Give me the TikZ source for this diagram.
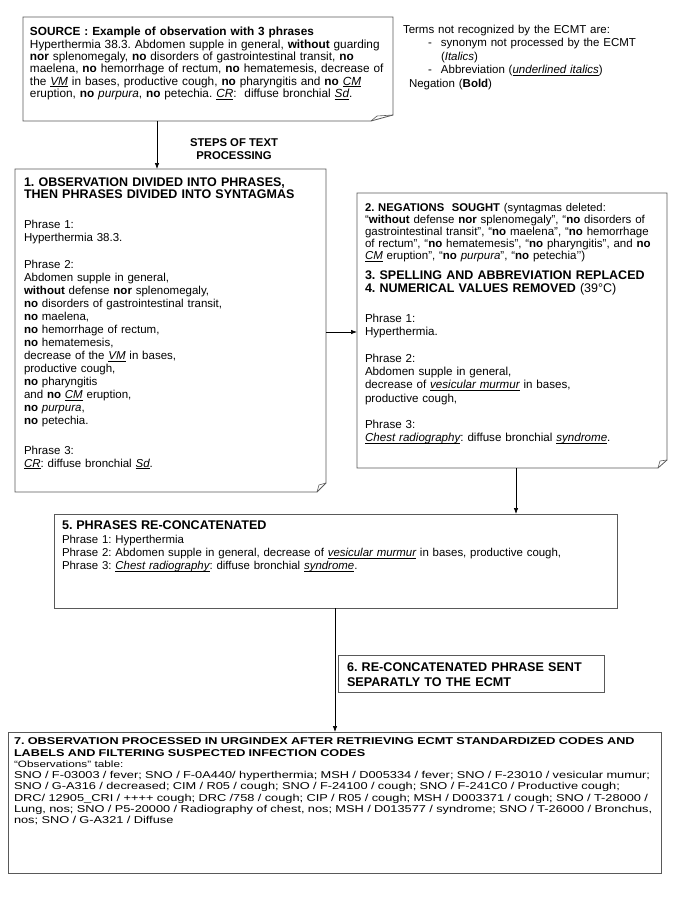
\documentclass[tikz,border=0pt]{standalone}
\usepackage{fontspec}
\setmainfont{Liberation Sans}
\newfontfamily\widefont[FakeStretch=1.28]{Liberation Sans}
\usetikzlibrary{arrows.meta}
\lineskiplimit=-50pt
\frenchspacing
\newsavebox\ulibox
\newcommand\uli[1]{\leavevmode\sbox\ulibox{\itshape #1}\rlap{\rule[-1.5pt]{\wd\ulibox}{0.55pt}}\usebox\ulibox}
\newcommand\fsz[2]{\fontsize{#1}{#2}\selectfont}
\tikzset{
  boxline/.style={draw=black!65, line width=0.8pt},
  frame/.style={inner sep=0pt, outer sep=0pt, anchor=north west},
  plainbox/.style={frame, boxline},
  txt/.style={inner sep=0pt, outer sep=0pt, anchor=north west, text width=#1, align=left, font=\frenchspacing},
  arr/.style={draw=black, line width=0.7pt, -{Latex[length=6pt,width=4.5pt]}},
}
\begin{document}
\frenchspacing
\begin{tikzpicture}[x=1pt,y=-1pt]
\fill[white] (0,0) rectangle (685,911);
\useasboundingbox (0,0) rectangle (685,911);

% ---------- SOURCE ----------
\node[frame, minimum width=370pt, minimum height=104pt] (src) at (23,17) {};
\draw[boxline] (src.north west) -- (src.north east) -- ([yshift=6pt]src.south east)
  -- ([xshift=-22pt]src.south east) -- (src.south west) -- cycle;
\draw[boxline, line width=0.6pt] ([xshift=-22pt]src.south east) -- ([xshift=-16pt,yshift=5pt]src.south east) -- ([yshift=6pt]src.south east);
\node[txt=362pt, font=\frenchspacing\fsz{11.8}{12.4}] (srct) at (30,27.2) {%
\textbf{SOURCE : Example of observation with 3 phrases}\\
Hyperthermia 38.3. Abdomen supple in general, \textbf{without} guarding\\
\textbf{nor} splenomegaly, \textbf{no} disorders of gastrointestinal transit, \textbf{no}\\
maelena, \textbf{no} hemorrhage of rectum, \textbf{no} hematemesis, decrease of\\
the \uli{VM} in bases, productive cough, \textbf{no} pharyngitis and \textbf{no} \uli{CM}\\
eruption, \textbf{no} \textit{purpura}, \textbf{no} petechia. \uli{CR}:\ \ diffuse bronchial \uli{Sd}.};

% ---------- LEGEND ----------
\node[txt=280pt, font=\frenchspacing\fsz{11.5}{13.5}] (legend) at (403,24.9) {%
Terms not recognized by the ECMT are:\\
\hspace*{25pt}\makebox[13pt][l]{-}synonym not processed by the ECMT\\
\hspace*{38pt}(\textit{Italics})\\
\hspace*{25pt}\makebox[13pt][l]{-}Abbreviation (\uli{underlined italics})\\
\hspace*{6pt}Negation (\textbf{Bold})};

% ---------- STEPS label ----------
\node[inner sep=0pt, anchor=north, align=center, font=\fsz{11.3}{13}\bfseries] (steps) at (234,138) {STEPS OF TEXT\\PROCESSING};

% ---------- BOX 1 ----------
\node[frame, minimum width=311pt, minimum height=323pt] (b1) at (15,169) {};
\draw[boxline] (b1.north west) -- (b1.north east) -- ([yshift=9pt]b1.south east)
  -- ([xshift=-9pt]b1.south east) -- (b1.south west) -- cycle;
\draw[boxline, line width=0.6pt] ([xshift=-9pt]b1.south east) -- ([xshift=-7pt,yshift=7pt]b1.south east) -- ([yshift=9pt]b1.south east);
\node[txt=300pt, font=\frenchspacing\fsz{12.5}{11.8}\bfseries] (b1h) at (24,178.2) {%
1. OBSERVATION DIVIDED INTO PHRASES,\\
THEN PHRASES DIVIDED INTO SYNTAGMAS};
\node[txt=300pt, font=\frenchspacing\fsz{11.5}{13}] (b1t) at (24,220.2) {%
Phrase 1:\\
Hyperthermia 38.3.\\[14.3pt]
Phrase 2:\\
Abdomen supple in general,\\
\textbf{without} defense \textbf{nor} splenomegaly,\\
\textbf{no} disorders of gastrointestinal transit,\\
\textbf{no} maelena,\\
\textbf{no} hemorrhage of rectum,\\
\textbf{no} hematemesis,\\
decrease of the \uli{VM} in bases,\\
productive cough,\\
\textbf{no} pharyngitis\\
and \textbf{no} \uli{CM} eruption,\\
\textbf{no} \textit{purpura},\\
\textbf{no} petechia.\\[16.7pt]
Phrase 3:\\
\uli{CR}: diffuse bronchial \uli{Sd}.};

% ---------- BOX 2 ----------
\node[frame, minimum width=310pt, minimum height=275pt] (b2) at (357,193) {};
\draw[boxline] (b2.north west) -- (b2.north east) -- ([yshift=8pt]b2.south east)
  -- ([xshift=-9pt]b2.south east) -- (b2.south west) -- cycle;
\draw[boxline, line width=0.6pt] ([xshift=-9pt]b2.south east) -- ([xshift=-7pt,yshift=7pt]b2.south east) -- ([yshift=8pt]b2.south east);
\node[txt=300pt, font=\frenchspacing\fsz{11.5}{12.2}] (b2n) at (365,202.9) {%
{\fsz{11.25}{12.2}\textbf{2. NEGATIONS\ \ SOUGHT} (syntagmas deleted:}\\
“\textbf{without} defense \textbf{nor} splenomegaly”, “\textbf{no} disorders of\\
gastrointestinal transit”, “\textbf{no} maelena”, “\textbf{no} hemorrhage\\
of rectum”, “\textbf{no} hematemesis”, “\textbf{no} pharyngitis”, and \textbf{no}\\
\uli{CM} eruption”, “\textbf{no} \textit{purpura}”, “\textbf{no} petechia’’)};
\node[txt=300pt, font=\frenchspacing\fsz{12.5}{13.3}] (b2h) at (365,270.5) {%
\textbf{3. SPELLING AND ABBREVIATION REPLACED}\\
\textbf{4. NUMERICAL VALUES REMOVED} (39°C)};
\node[txt=300pt, font=\frenchspacing\fsz{11.6}{13.3}] (b2t) at (365,313.8) {%
Phrase 1:\\
Hyperthermia.\\[13.3pt]
Phrase 2:\\
Abdomen supple in general,\\
decrease of \uli{vesicular murmur} in bases,\\
productive cough,\\[13.3pt]
Phrase 3:\\
\uli{Chest radiography}: diffuse bronchial \uli{syndrome}.};

% ---------- BOX 5 ----------
\node[plainbox, minimum width=563pt, minimum height=94pt] (b5) at (54,514) {};
\node[txt=550pt, font=\frenchspacing\fsz{11.44}{13.3}] (b5t) at (62,520.5) {%
{\fsz{12.6}{13.3}\bfseries 5. PHRASES RE-CONCATENATED}\\[0.7pt]
Phrase 1: Hyperthermia\\
Phrase 2: Abdomen supple in general, decrease of \uli{vesicular murmur} in bases, productive cough,\\
Phrase 3: \uli{Chest radiography}: diffuse bronchial \uli{syndrome}.};

% ---------- BOX 6 ----------
\node[plainbox, minimum width=266pt, minimum height=37pt] (b6) at (338,655) {};
\node[txt=260pt, font=\frenchspacing\fsz{12.6}{15}\bfseries] (b6t) at (347,662.5) {%
6. RE-CONCATENATED PHRASE SENT\\
SEPARATLY TO THE ECMT};

% ---------- BOX 7 ----------
\node[plainbox, minimum width=653pt, minimum height=141pt] (b7) at (8,732) {};
\node[txt=660pt, font=\widefont\frenchspacing\fsz{9.9}{12}\bfseries] (b7h) at (14,737.1) {%
7. OBSERVATION PROCESSED IN URGINDEX AFTER RETRIEVING ECMT STANDARDIZED CODES AND\\
LABELS AND FILTERING SUSPECTED INFECTION CODES};
\node[txt=660pt, font=\widefont\frenchspacing\fsz{10}{11.3}] (b7t) at (14,760.7) {%
{\fsz{9.2}{11.3}“Observations” table:}\\
SNO / F-03003 / fever; SNO / F-0A440/ hyperthermia; MSH / D005334 / fever; SNO / F-23010 / vesicular mumur;\\
SNO / G-A316 / decreased; CIM / R05 / cough; SNO / F-24100 / cough; SNO / F-241C0 / Productive cough;\\
DRC/ 12905\_CRI / ++++ cough; DRC /758 / cough; CIP / R05 / cough; MSH / D003371 / cough; SNO / T-28000 /\\
Lung, nos; SNO / P5-20000 / Radiography of chest, nos; MSH / D013577 / syndrome; SNO / T-26000 / Bronchus,\\
nos; SNO / G-A321 / Diffuse};

% ---------- ARROWS ----------
\coordinate (ax1) at (157,0);
\coordinate (ay1) at (0,332);
\coordinate (ax2) at (516,0);
\coordinate (ax3) at (335,0);
\draw[arr] (src.south -| ax1) -- (b1.north -| ax1);
\draw[arr] (b1.east |- ay1) -- (b2.west |- ay1);
\draw[arr] (b2.south -| ax2) -- (b5.north -| ax2);
\draw[arr] (b5.south -| ax3) -- (b7.north -| ax3);
\end{tikzpicture}
\end{document}
